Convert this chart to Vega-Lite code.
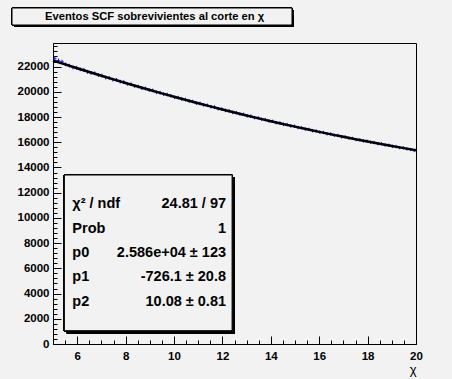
{
  "$schema": "https://vega.github.io/schema/vega-lite/v6.json",
  "width": 363,
  "height": 301,
  "autosize": {"type": "none"},
  "padding": {"left": 53, "top": 43, "right": 36, "bottom": 35},
  "background": "#f2f2f2",
  "config": {
    "view": {"stroke": "black", "strokeWidth": 1, "fill": "#f2f2f2"},
    "axis": {"grid": false, "domainColor": "black", "tickColor": "black", "labelColor": "black", "labelFont": "Liberation Sans", "labelFontWeight": "bold", "labelFontSize": 11.5, "titleColor": "black", "titleFont": "Liberation Sans"}
  },
  "datasets": {
    "h": [
      {"x":5.075,"v":22650,"e":150},{"x":5.225,"v":22480,"e":150},{"x":5.375,"v":22390,"e":150},{"x":5.525,"v":22180,"e":150},{"x":5.675,"v":22075,"e":150},
      {"x":5.825,"v":21925,"e":150},{"x":5.975,"v":21905,"e":150},{"x":6.125,"v":21780,"e":150},{"x":6.275,"v":21740,"e":150},{"x":6.425,"v":21585,"e":150},
      {"x":6.575,"v":21500,"e":146},{"x":6.725,"v":21470,"e":146},{"x":6.875,"v":21330,"e":146},{"x":7.025,"v":21290,"e":146},{"x":7.175,"v":21130,"e":146},
      {"x":7.325,"v":21095,"e":146},{"x":7.475,"v":20960,"e":146},{"x":7.625,"v":20945,"e":146},{"x":7.775,"v":20810,"e":146},{"x":7.925,"v":20770,"e":146},
      {"x":8.075,"v":20630,"e":143},{"x":8.225,"v":20600,"e":143},{"x":8.375,"v":20460,"e":143},{"x":8.525,"v":20420,"e":143},{"x":8.675,"v":20285,"e":143},
      {"x":8.825,"v":20265,"e":143},{"x":8.975,"v":20140,"e":143},{"x":9.125,"v":20110,"e":143},{"x":9.275,"v":19960,"e":143},{"x":9.425,"v":19930,"e":143},
      {"x":9.575,"v":19805,"e":140},{"x":9.725,"v":19780,"e":140},{"x":9.875,"v":19690,"e":140},{"x":10.025,"v":19560,"e":140},{"x":10.175,"v":19540,"e":140},
      {"x":10.325,"v":19415,"e":140},{"x":10.475,"v":19385,"e":140},{"x":10.625,"v":19270,"e":140},{"x":10.775,"v":19230,"e":140},{"x":10.925,"v":19100,"e":140},
      {"x":11.075,"v":19080,"e":138},{"x":11.225,"v":18955,"e":138},{"x":11.375,"v":18930,"e":138},{"x":11.525,"v":18815,"e":138},{"x":11.675,"v":18790,"e":138},
      {"x":11.825,"v":18660,"e":138},{"x":11.975,"v":18635,"e":138},{"x":12.125,"v":18520,"e":138},{"x":12.275,"v":18490,"e":138},{"x":12.425,"v":18370,"e":138},
      {"x":12.575,"v":18345,"e":135},{"x":12.725,"v":18230,"e":135},{"x":12.875,"v":18210,"e":135},{"x":13.025,"v":18090,"e":135},{"x":13.175,"v":18070,"e":135},
      {"x":13.325,"v":17950,"e":135},{"x":13.475,"v":17930,"e":135},{"x":13.625,"v":17820,"e":135},{"x":13.775,"v":17795,"e":135},{"x":13.925,"v":17680,"e":135},
      {"x":14.075,"v":17660,"e":132},{"x":14.225,"v":17550,"e":132},{"x":14.375,"v":17530,"e":132},{"x":14.525,"v":17415,"e":132},{"x":14.675,"v":17400,"e":132},
      {"x":14.825,"v":17290,"e":132},{"x":14.975,"v":17270,"e":132},{"x":15.125,"v":17160,"e":132},{"x":15.275,"v":17145,"e":132},{"x":15.425,"v":17040,"e":132},
      {"x":15.575,"v":17020,"e":130},{"x":15.725,"v":16910,"e":130},{"x":15.875,"v":16895,"e":130},{"x":16.025,"v":16790,"e":130},{"x":16.175,"v":16775,"e":130},
      {"x":16.325,"v":16670,"e":130},{"x":16.475,"v":16655,"e":130},{"x":16.625,"v":16550,"e":130},{"x":16.775,"v":16540,"e":130},{"x":16.925,"v":16435,"e":130},
      {"x":17.075,"v":16420,"e":127},{"x":17.225,"v":16320,"e":127},{"x":17.375,"v":16305,"e":127},{"x":17.525,"v":16210,"e":127},{"x":17.675,"v":16195,"e":127},
      {"x":17.825,"v":16100,"e":127},{"x":17.975,"v":16085,"e":127},{"x":18.125,"v":15990,"e":127},{"x":18.275,"v":15975,"e":127},{"x":18.425,"v":15885,"e":127},
      {"x":18.575,"v":15870,"e":125},{"x":18.725,"v":15775,"e":125},{"x":18.875,"v":15765,"e":125},{"x":19.025,"v":15675,"e":125},{"x":19.175,"v":15660,"e":125},
      {"x":19.325,"v":15570,"e":125},{"x":19.475,"v":15560,"e":125},{"x":19.625,"v":15470,"e":125},{"x":19.775,"v":15425,"e":125},{"x":19.925,"v":15340,"e":125}
    ],
    "fit": [
      {"x":5,"f":22481.5},{"x":5.5,"f":22171.4},{"x":6,"f":21866.3},{"x":6.5,"f":21566.2},{"x":7,"f":21271.2},{"x":7.5,"f":20981.3},
      {"x":8,"f":20696.3},{"x":8.5,"f":20416.4},{"x":9,"f":20141.6},{"x":9.5,"f":19871.8},{"x":10,"f":19607},{"x":10.5,"f":19347.3},
      {"x":11,"f":19092.6},{"x":11.5,"f":18842.9},{"x":12,"f":18598.3},{"x":12.5,"f":18358.8},{"x":13,"f":18124.2},{"x":13.5,"f":17894.7},
      {"x":14,"f":17670.3},{"x":14.5,"f":17450.9},{"x":15,"f":17236.5},{"x":15.5,"f":17027.2},{"x":16,"f":16822.9},{"x":16.5,"f":16623.6},
      {"x":17,"f":16429.4},{"x":17.5,"f":16240.3},{"x":18,"f":16056.1},{"x":18.5,"f":15877},{"x":19,"f":15703},{"x":19.5,"f":15534},{"x":20,"f":15370}
    ],
    "stats": [
      {"k":"χ² / ndf","v":"24.81 / 97"},
      {"k":"Prob","v":"1"},
      {"k":"p0","v":"2.586e+04 ± 123"},
      {"k":"p1","v":"-726.1 ± 20.8"},
      {"k":"p2","v":"10.08 ± 0.81"}
    ]
  },
  "layer": [
    {
      "layer": [
        {
          "data": {"name": "fit"},
          "mark": {"type": "rect", "fill": "black", "xOffset": 2, "x2Offset": 2, "yOffset": 2, "y2Offset": 2},
          "encoding": {
            "x": {"datum": 3.306, "type": "quantitative", "axis": null},
            "x2": {"datum": 14.876},
            "y": {"datum": 26646, "type": "quantitative", "axis": null},
            "y2": {"datum": 25297}
          }
        },
        {
          "data": {"name": "fit"},
          "mark": {"type": "rect", "fill": "#f2f2f2", "stroke": "black", "strokeWidth": 1},
          "encoding": {
            "x": {"datum": 3.306, "type": "quantitative", "axis": null},
            "x2": {"datum": 14.876},
            "y": {"datum": 26646, "type": "quantitative", "axis": null},
            "y2": {"datum": 25297}
          }
        },
        {
          "data": {"values": [{"t": "Eventos SCF sobrevivientes al corte en χ"}]},
          "mark": {"type": "text", "font": "Liberation Sans", "fontWeight": "bold", "fontSize": 11.2, "color": "black", "align": "center", "baseline": "middle"},
          "encoding": {
            "x": {"datum": 9.2, "type": "quantitative", "axis": null},
            "y": {"datum": 25971, "type": "quantitative", "axis": null},
            "text": {"field": "t"}
          }
        },
        {
          "data": {"name": "h"},
          "mark": {"type": "errorbar", "color": "blue", "thickness": 1},
          "encoding": {
            "x": {"field": "x", "type": "quantitative", "axis": null},
            "y": {"field": "v", "type": "quantitative", "axis": null},
            "yError": {"field": "e"}
          }
        },
        {
          "data": {"name": "h"},
          "mark": {"type": "tick", "color": "blue", "orient": "horizontal", "size": 3.6, "thickness": 1},
          "encoding": {
            "x": {"field": "x", "type": "quantitative", "axis": null},
            "y": {"field": "v", "type": "quantitative", "axis": null}
          }
        },
        {
          "data": {"name": "fit"},
          "mark": {"type": "line", "color": "black", "strokeWidth": 2.5},
          "encoding": {
            "x": {
              "field": "x", "type": "quantitative",
              "scale": {"domain": [5, 20], "nice": false, "zero": false},
              "axis": {"orient": "bottom", "values": [6, 8, 10, 12, 14, 16, 18, 20], "tickSize": -8, "labelPadding": 14, "labelFlush": false, "labelOverlap": false, "title": "χ", "titleAnchor": "end", "titleAlign": "right", "titleFontWeight": "normal", "titleFontSize": 13, "titlePadding": 2}
            },
            "y": {
              "field": "f", "type": "quantitative",
              "scale": {"domain": [0, 23870], "nice": false, "zero": false},
              "axis": {"orient": "left", "values": [0, 2000, 4000, 6000, 8000, 10000, 12000, 14000, 16000, 18000, 20000, 22000], "tickSize": -8, "labelPadding": 12, "labelFlush": false, "labelOverlap": false, "title": null, "format": "d"}
            }
          }
        },
        {
          "data": {"name": "fit"},
          "mark": {"type": "line", "opacity": 0},
          "encoding": {
            "x": {
              "field": "x", "type": "quantitative",
              "axis": {"orient": "bottom", "values": [5.5, 6, 6.5, 7, 7.5, 8, 8.5, 9, 9.5, 10, 10.5, 11, 11.5, 12, 12.5, 13, 13.5, 14, 14.5, 15, 15.5, 16, 16.5, 17, 17.5, 18, 18.5, 19, 19.5, 20], "tickSize": -4, "labels": false, "domain": false, "title": null}
            },
            "y": {
              "field": "f", "type": "quantitative",
              "axis": {"orient": "left", "values": [0, 400, 800, 1200, 1600, 2000, 2400, 2800, 3200, 3600, 4000, 4400, 4800, 5200, 5600, 6000, 6400, 6800, 7200, 7600, 8000, 8400, 8800, 9200, 9600, 10000, 10400, 10800, 11200, 11600, 12000, 12400, 12800, 13200, 13600, 14000, 14400, 14800, 15200, 15600, 16000, 16400, 16800, 17200, 17600, 18000, 18400, 18800, 19200, 19600, 20000, 20400, 20800, 21200, 21600, 22000, 22400, 22800, 23200, 23600], "tickSize": -4, "labels": false, "domain": false, "title": null}
            }
          }
        },
        {
          "data": {"name": "fit"},
          "mark": {"type": "rect", "fill": "black", "xOffset": 2.5, "x2Offset": 2.5, "yOffset": 2.5, "y2Offset": 2.5},
          "encoding": {
            "x": {"datum": 5.47, "type": "quantitative", "axis": null},
            "x2": {"datum": 12.4},
            "y": {"datum": 13402, "type": "quantitative", "axis": null},
            "y2": {"datum": 1055}
          }
        },
        {
          "data": {"name": "fit"},
          "mark": {"type": "rect", "fill": "#f2f2f2", "stroke": "black", "strokeWidth": 1},
          "encoding": {
            "x": {"datum": 5.47, "type": "quantitative", "axis": null},
            "x2": {"datum": 12.4},
            "y": {"datum": 13402, "type": "quantitative", "axis": null},
            "y2": {"datum": 1055}
          }
        }
      ],
      "resolve": {"axis": {"x": "independent", "y": "independent"}}
    },
    {
      "data": {"name": "stats"},
      "layer": [
        {
          "mark": {"type": "text", "font": "Liberation Sans", "fontWeight": "bold", "fontSize": 14.5, "color": "black", "align": "left", "baseline": "middle"},
          "encoding": {
            "x": {"datum": 5.8, "type": "quantitative", "axis": null},
            "y": {"field": "k", "type": "nominal", "scale": {"type": "point", "domain": ["χ² / ndf", "Prob", "p0", "p1", "p2"], "range": [149, 271]}, "axis": null},
            "text": {"field": "k"}
          }
        },
        {
          "mark": {"type": "text", "font": "Liberation Sans", "fontWeight": "bold", "fontSize": 14.5, "color": "black", "align": "right", "baseline": "middle"},
          "encoding": {
            "x": {"datum": 12.15, "type": "quantitative", "axis": null},
            "y": {"field": "k", "type": "nominal", "scale": {"type": "point", "domain": ["χ² / ndf", "Prob", "p0", "p1", "p2"], "range": [149, 271]}, "axis": null},
            "text": {"field": "v"}
          }
        }
      ]
    }
  ],
  "resolve": {"scale": {"y": "independent"}, "axis": {"x": "independent", "y": "independent"}}
}
